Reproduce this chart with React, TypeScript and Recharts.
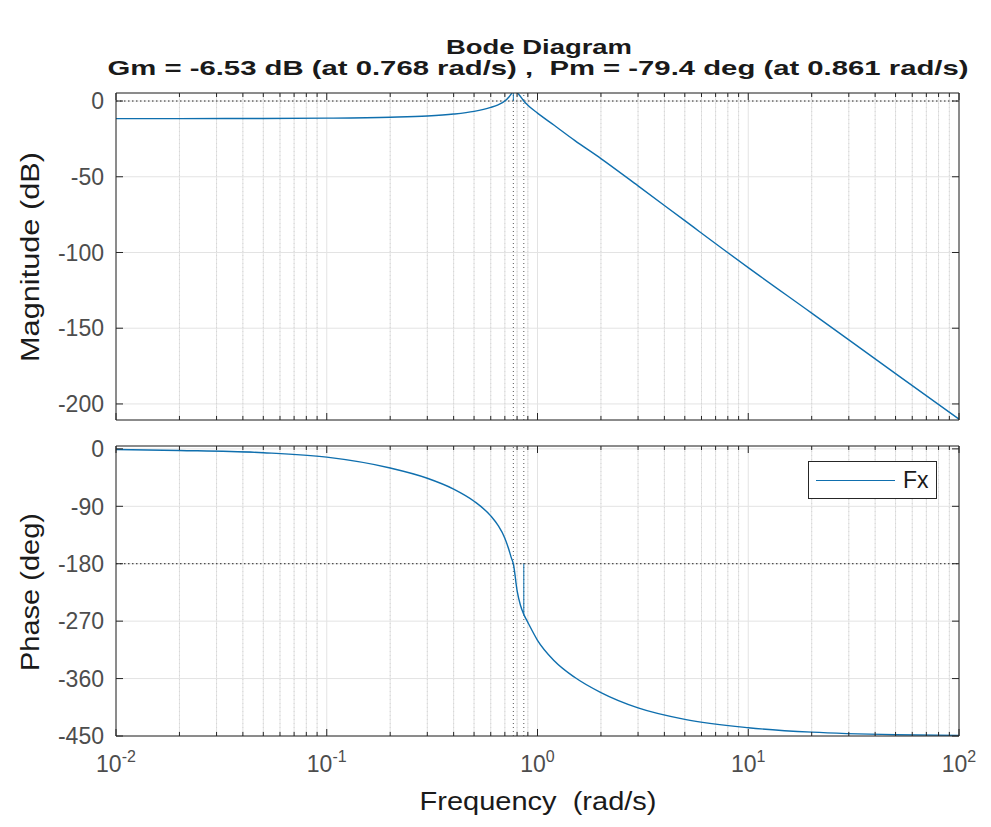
import { CartesianGrid, Line, LineChart, ReferenceLine, XAxis, YAxis } from 'recharts'

// values (rad/s, dB, deg)
const freq = [
  0.01, 0.02, 0.05, 0.1, 0.2, 0.3, 0.4, 0.5, 0.6, 0.65, 0.7, 0.73, 0.75, 0.768, 0.8, 0.83, 0.861, 0.9, 1, 1.2,
  1.5, 2, 3, 5, 10, 20, 50, 100,
]
const magnitudeDb = [
  -11.6, -11.6, -11.5, -11.3, -10.7, -9.9, -8.6, -6.8, -4.2, -2.5, 0, 2.5, 4.6, 6.5, 5.5, 3, 0, -2.8, -8, -16,
  -26, -38, -56, -79, -110, -140, -180, -210,
]
const phaseDeg = [
  -1, -2.5, -6, -13, -30, -46, -63, -82, -105, -120, -140, -157, -170, -180, -222, -245, -259.4, -272, -300,
  -332, -358, -382, -406, -424, -437, -444, -448, -449,
]

const majorFreqTicks = [0.01, 0.1, 1, 10, 100]
const minorSteps = [2, 3, 4, 5, 6, 7, 8, 9]
const magTicks = [-200, -150, -100, -50, 0]
const phaseTicks = [-450, -360, -270, -180, -90, 0]

const gmFreq = 0.768
const gmDb = 6.53
const pmFreq = 0.861
const pmDeg = -79.4

const minorFreqTicks = majorFreqTicks.slice(0, -1).flatMap((d) => minorSteps.map((s) => +(d * s).toPrecision(2)))
const allFreqTicks = [...majorFreqTicks, ...minorFreqTicks].sort((a, b) => a - b)

const data = freq.map((f, i) => ({ f, mag: magnitudeDb[i], phase: phaseDeg[i] }))

const LINE = '#0f6fae'
const AXIS = '#262626'
const TICK_TEXT = '#4d4d4d'
const FONT = '"Liberation Sans", Arial, Helvetica, sans-serif'
const NB = '\u00a0'

const W = 991
const LEFT = 116
const RIGHT = 32

function FreqTick(props: any) {
  const { x, y, payload, side, labels } = props
  const major = majorFreqTicks.includes(payload.value)
  const dir = side === 'bottom' ? -1 : 1
  const len = major ? 7 : 4
  return (
    <g>
      <line x1={x} x2={x} y1={y} y2={y + dir * len} stroke={AXIS} strokeWidth={1} />
      {labels && major && (
        <text x={x} y={y + 36} textAnchor="middle" fill={TICK_TEXT} fontSize={23} fontFamily={FONT}>
          10
          <tspan dy={-10} fontSize={16}>
            {Math.round(Math.log10(payload.value))}
          </tspan>
        </text>
      )}
    </g>
  )
}

function LevelTick(props: any) {
  const { x, y, payload, side } = props
  const dir = side === 'left' ? 1 : -1
  return (
    <g>
      <line x1={x} x2={x + dir * 7} y1={y} y2={y} stroke={AXIS} strokeWidth={1} />
      {side === 'left' && (
        <text x={x - 12} y={y} dy="0.36em" textAnchor="end" fill={TICK_TEXT} fontSize={23} fontFamily={FONT}>
          {payload.value}
        </text>
      )}
    </g>
  )
}

function freqAxes(labels: boolean) {
  return [
    <XAxis
      key="b"
      xAxisId="b"
      dataKey="f"
      type="number"
      scale="log"
      domain={[0.01, 100]}
      allowDataOverflow
      ticks={allFreqTicks}
      interval={0}
      height={1}
      tickSize={0}
      tickMargin={0}
      stroke={AXIS}
      tick={(p: any) => <FreqTick {...p} side="bottom" labels={labels} />}
    />,
    <XAxis
      key="t"
      xAxisId="t"
      orientation="top"
      dataKey="f"
      type="number"
      scale="log"
      domain={[0.01, 100]}
      allowDataOverflow
      ticks={allFreqTicks}
      interval={0}
      height={1}
      tickSize={0}
      tickMargin={0}
      stroke={AXIS}
      tick={(p: any) => <FreqTick {...p} side="top" labels={false} />}
    />,
  ]
}

function Panel({
  dataKey,
  domain,
  ticks,
  height,
  top,
  bottom,
  children,
}: {
  dataKey: 'mag' | 'phase'
  domain: [number, number]
  ticks: number[]
  height: number
  top: number
  bottom: number
  children?: React.ReactNode
}) {
  return (
    <LineChart
      width={W}
      height={height}
      data={data}
      margin={{ top: top - 1, right: RIGHT - 1, bottom: bottom - 1, left: LEFT - 1 }}
    >
      <CartesianGrid xAxisId="b" yAxisId="l" stroke="#e3e3e3" />
      {freqAxes(dataKey === 'phase')}
      <YAxis
        yAxisId="l"
        type="number"
        domain={domain}
        allowDataOverflow
        ticks={ticks}
        interval={0}
        width={1}
        tickSize={0}
        tickMargin={0}
        stroke={AXIS}
        tick={(p: any) => <LevelTick {...p} side="left" />}
      />
      <YAxis
        yAxisId="r"
        orientation="right"
        type="number"
        domain={domain}
        allowDataOverflow
        ticks={ticks}
        interval={0}
        width={1}
        tickSize={0}
        tickMargin={0}
        stroke={AXIS}
        tick={(p: any) => <LevelTick {...p} side="right" />}
      />
      {minorFreqTicks.map((v) => (
        <ReferenceLine key={v} xAxisId="b" yAxisId="l" x={v} stroke="#d6d6d6" strokeDasharray="1 3" />
      ))}
      <ReferenceLine xAxisId="b" yAxisId="l" x={gmFreq} stroke="#555" strokeDasharray="1 3" />
      <ReferenceLine xAxisId="b" yAxisId="l" x={pmFreq} stroke="#555" strokeDasharray="1 3" />
      {children}
      <Line
        xAxisId="b"
        yAxisId="l"
        dataKey={dataKey}
        name="Fx"
        type="monotone"
        stroke={LINE}
        strokeWidth={1.4}
        dot={false}
        isAnimationActive={false}
      />
    </LineChart>
  )
}

export default function App() {
  return (
    <div style={{ position: 'absolute', left: 0, top: 0, width: W, height: 827, background: '#fff' }}>
      <div style={{ position: 'absolute', left: 0, top: 0 }}>
        <Panel dataKey="mag" domain={[-210.6, 5.3]} ticks={magTicks} height={430} top={93} bottom={10}>
          <ReferenceLine xAxisId="b" yAxisId="l" y={0} stroke={AXIS} strokeDasharray="1.5 2.5" />
          <ReferenceLine
            xAxisId="b"
            yAxisId="l"
            segment={[
              { x: gmFreq, y: 0 },
              { x: gmFreq, y: gmDb },
            ]}
            stroke={LINE}
            ifOverflow="hidden"
          />
        </Panel>
      </div>
      <div style={{ position: 'absolute', left: 0, top: 425 }}>
        <Panel dataKey="phase" domain={[-450, 4.5]} ticks={phaseTicks} height={402} top={21} bottom={91}>
          <ReferenceLine xAxisId="b" yAxisId="l" y={-180} stroke={AXIS} strokeDasharray="1.5 2.5" />
          <ReferenceLine
            xAxisId="b"
            yAxisId="l"
            segment={[
              { x: pmFreq, y: -180 },
              { x: pmFreq, y: -180 + pmDeg },
            ]}
            stroke={LINE}
            ifOverflow="hidden"
          />
        </Panel>
      </div>
      <div
        style={{
          position: 'absolute',
          left: 808,
          top: 461,
          width: 129,
          height: 38,
          border: `1.5px solid ${AXIS}`,
          background: '#fff',
          boxSizing: 'border-box',
          display: 'flex',
          alignItems: 'center',
          fontFamily: FONT,
          fontSize: 23,
          color: '#1a1a1a',
        }}
      >
        <div style={{ width: 79, height: 0, borderTop: `1.4px solid ${LINE}`, marginLeft: 7, marginRight: 8 }} />
        Fx
      </div>
      <svg width={W} height={827} style={{ position: 'absolute', left: 0, top: 0, pointerEvents: 'none' }}>
        <g fontFamily={FONT} fill="#1a1a1a">
          <text x={539} y={54} textAnchor="middle" fontSize={21} fontWeight="bold" textLength={186} lengthAdjust="spacingAndGlyphs">
            Bode Diagram
          </text>
          <text x={538} y={75} textAnchor="middle" fontSize={21} fontWeight="bold" textLength={861} lengthAdjust="spacingAndGlyphs">
            {`Gm = -6.53 dB (at 0.768 rad/s) ,${NB}${NB}Pm = -79.4 deg (at 0.861 rad/s)`}
          </text>
          <text x={538} y={810} textAnchor="middle" fontSize={25} textLength={237} lengthAdjust="spacingAndGlyphs">
            {`Frequency${NB}${NB}(rad/s)`}
          </text>
          <text
            transform="translate(39 257) rotate(-90)"
            textAnchor="middle"
            fontSize={25}
            textLength={210}
            lengthAdjust="spacingAndGlyphs"
          >
            Magnitude (dB)
          </text>
          <text
            transform="translate(39 592) rotate(-90)"
            textAnchor="middle"
            fontSize={25}
            textLength={158}
            lengthAdjust="spacingAndGlyphs"
          >
            Phase (deg)
          </text>
        </g>
      </svg>
    </div>
  )
}
